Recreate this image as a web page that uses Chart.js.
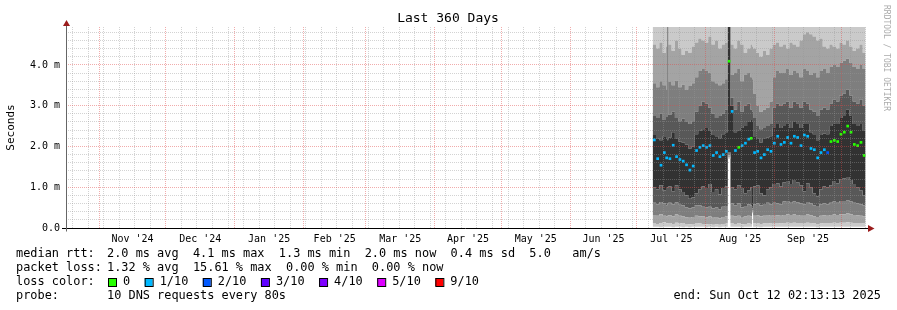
<!DOCTYPE html>
<html>
<head>
<meta charset="utf-8">
<title>Last 360 Days</title>
<script src="https://cdn.jsdelivr.net/npm/chart.js@4.4.1/dist/chart.umd.min.js"></script>
<style>
  html, body { margin: 0; padding: 0; background: #fff; }
  canvas { display: block; }
</style>
</head>
<body>
<canvas id="graph" width="897" height="310"></canvas>
<script>
(function () {
  "use strict";

  // sample times, days since graph start (end - 360 days)
  const days = [264, 265.5, 267, 268.5, 270, 270.6, 271, 272.5, 274, 275.5,
    277, 278.5, 280, 281.5, 283, 284.5, 286, 287.5, 289, 290.5,
    292, 293.5, 295, 296.5, 297.8, 299, 300.5, 302, 303.5, 305,
    306.5, 308, 308.7, 309.2, 310.5, 312, 313.5, 315, 316.5, 318,
    319.5, 321, 322.5, 324, 325.5, 327, 328.5, 330, 331.5, 333,
    334.5, 336, 337.5, 339, 340.5, 342, 343.5, 345, 346.5, 348,
    349.5, 351, 352.5, 354, 355.5, 357, 358.5, 359.8];

  // median rtt (ms)
  const median = [2.16, 1.70, 1.54, 1.85, 1.72, null, 1.70, 2.03, 1.75, 1.68,
    1.64, 1.55, 1.42, 1.52, 1.90, 1.98, 2.02, 1.98, 2.02, 1.78,
    1.85, 1.75, 1.80, 1.88, 4.09, 2.86, 1.90, 1.98, 2.02, 2.08,
    2.18, 2.20, null, 1.85, 1.88, 1.72, 1.80, 1.92, 1.88, 2.08,
    2.25, 2.05, 2.10, 2.22, 2.08, 2.25, 2.22, 2.02, 2.28, 2.25,
    1.95, 1.92, 1.72, 1.85, 1.92, 1.85, 2.12, 2.15, 2.12, 2.30,
    2.35, 2.50, 2.35, 2.05, 2.02, 2.10, 1.78, null];

  // loss level, index into lossLabels
  const loss = [1, 1, 1, 1, 1, 1, 1, 1, 1, 1,
    1, 1, 1, 1, 1, 1, 1, 1, 1, 1,
    1, 1, 1, 1, 0, 1, 1, 0, 1, 1,
    1, 0, 1, 1, 1, 1, 1, 1, 1, 1,
    1, 1, 1, 1, 1, 1, 1, 1, 1, 1,
    1, 1, 1, 1, 1, 2, 0, 0, 0, 0,
    0, 0, 0, 0, 0, 0, 0, 0];

  // sorted pings 1..9 (ping 10 is above the graph top)
  const ping1 = [.03, .03, .02, .03, .03, .03, .03, .02, .03, .03,
    .02, .03, .02, .03, .03, .03, .03, .02, .03, .02,
    .03, .02, .03, .03, 1.70, .03, .03, .03, .02, .03,
    .03, .03, .36, .03, .03, .02, .03, .03, .03, .03,
    .03, .03, .03, .03, .03, .03, .03, .03, .03, .03,
    .03, .03, .02, .03, .03, .03, .03, .03, .03, .03,
    .03, .03, .03, .03, .03, .03, .03, .03];
  const ping2 = [.12, .10, .12, .14, .11, .12, .12, .10, .13, .11,
    .12, .10, .09, .10, .12, .11, .10, .09, .10, .08,
    .09, .08, .10, .11, 1.74, .11, .10, .12, .09, .10,
    .11, .10, .40, .11, .12, .10, .11, .12, .11, .12,
    .12, .11, .12, .13, .12, .13, .12, .12, .12, .13,
    .12, .11, .10, .11, .12, .12, .12, .13, .12, .13,
    .13, .14, .13, .12, .12, .12, .11, .11];
  const ping3 = [.32, .30, .34, .30, .28, .30, .31, .29, .33, .30,
    .28, .26, .25, .27, .30, .29, .28, .26, .28, .25,
    .27, .24, .27, .28, 1.78, .30, .28, .30, .25, .28,
    .30, .28, .44, .30, .31, .28, .30, .32, .30, .32,
    .31, .30, .32, .34, .32, .33, .32, .30, .30, .33,
    .31, .29, .27, .30, .31, .30, .32, .33, .32, .34,
    .34, .36, .34, .32, .31, .30, .28, .28];
  const ping4 = [.62, .58, .64, .60, .56, .60, .62, .58, .63, .57,
    .55, .50, .48, .50, .56, .55, .52, .50, .52, .48,
    .50, .46, .52, .54, 1.82, .60, .55, .60, .50, .52,
    .58, .55, .48, .58, .60, .55, .57, .62, .58, .62,
    .60, .58, .65, .66, .62, .65, .63, .60, .58, .64,
    .60, .56, .52, .58, .60, .58, .62, .65, .62, .66,
    .66, .68, .65, .62, .60, .58, .55, .55];
  const ping5 = [1.00, .95, 1.05, .92, .98, 1.00, 1.02, .90, 1.05, .95,
    .88, .80, .72, .75, .85, .95, 1.02, .98, 1.08, .88,
    .95, .82, .98, 1.02, 1.86, 1.00, .95, 1.05, .98, .85,
    .92, 1.00, .52, 1.02, 1.05, .85, .80, .95, 1.00, 1.08,
    1.10, 1.02, 1.12, 1.15, 1.08, 1.18, 1.12, 1.05, .90, 1.10,
    1.00, .85, .78, .95, 1.02, 1.00, 1.05, 1.15, 1.10, 1.20,
    1.22, 1.25, 1.18, 1.08, 1.00, .92, .80, .80];
  const ping6 = [2.30, 2.20, 2.15, 2.25, 2.18, 2.15, 2.22, 2.35, 2.20, 2.12,
    2.10, 2.05, 1.95, 2.00, 2.30, 2.38, 2.42, 2.45, 2.40, 2.28,
    2.25, 2.20, 2.30, 2.35, 5.50, 3.00, 2.35, 2.40, 2.45, 2.50,
    2.60, 2.65, 2.60, 2.25, 2.20, 2.10, 2.18, 2.22, 2.25, 2.45,
    2.55, 2.45, 2.50, 2.55, 2.45, 2.60, 2.55, 2.45, 2.55, 2.55,
    2.35, 2.30, 2.15, 2.28, 2.32, 2.30, 2.50, 2.55, 2.55, 2.70,
    2.75, 2.90, 2.75, 2.55, 2.50, 2.55, 2.40, 2.40];
  const ping7 = [2.75, 2.70, 2.80, 2.65, 2.72, 5.50, 2.78, 2.85, 2.70, 2.62,
    2.68, 2.60, 2.55, 2.62, 2.85, 3.00, 3.10, 3.05, 2.95, 2.80,
    2.70, 2.75, 2.80, 2.90, 5.60, 3.20, 2.90, 3.10, 2.85, 3.00,
    3.05, 2.90, 2.85, 2.70, 2.50, 2.42, 2.45, 2.50, 2.55, 2.95,
    3.05, 3.00, 3.05, 3.10, 2.95, 3.10, 3.05, 2.95, 3.10, 3.05,
    2.90, 2.85, 2.75, 2.90, 2.95, 2.90, 3.05, 3.15, 3.10, 3.25,
    3.30, 3.40, 3.25, 3.10, 3.05, 3.15, 3.00, 3.00];
  const ping8 = [3.55, 3.45, 3.60, 3.50, 3.40, 5.60, 3.58, 3.50, 3.62, 3.45,
    3.52, 3.40, 3.48, 3.55, 3.70, 3.85, 3.90, 3.85, 3.80, 3.60,
    3.55, 3.50, 3.55, 3.65, 5.70, 3.75, 3.80, 3.90, 3.60, 3.75,
    3.80, 3.70, 3.65, 3.30, 3.00, 2.85, 2.90, 2.95, 3.10, 3.70,
    3.85, 3.80, 3.80, 3.90, 3.75, 3.85, 3.80, 3.70, 3.90, 3.85,
    3.75, 3.80, 3.70, 3.85, 3.90, 3.80, 3.95, 4.00, 3.95, 4.05,
    4.10, 4.15, 4.05, 3.95, 3.90, 4.00, 3.90, 3.90];
  const ping9 = [4.50, 4.40, 4.55, 4.30, 4.45, 5.70, 4.50, 4.35, 4.60, 4.40,
    4.25, 4.35, 4.30, 4.45, 4.55, 4.65, 4.60, 4.55, 4.70, 4.50,
    4.60, 4.40, 4.50, 4.55, 5.80, 4.50, 4.40, 4.60, 4.50, 4.30,
    4.40, 4.50, 4.45, 4.40, 4.30, 4.20, 4.35, 4.25, 4.40, 4.50,
    4.55, 4.45, 4.50, 4.40, 4.55, 4.50, 4.45, 4.60, 4.75, 4.80,
    4.75, 4.70, 4.60, 4.65, 4.45, 4.40, 4.50, 4.45, 4.40, 4.55,
    4.50, 4.60, 4.45, 4.35, 4.40, 4.50, 4.30, 4.30];

  const lossLabels = ["0", "1/10", "2/10", "3/10", "4/10", "5/10", "9/10"];
  const lossColors = ["#26ff00", "#00b8ff", "#0059ff", "#5e00ff", "#7e00ff", "#dd00ff", "#ff0000"];
  const smokeGrays = ["#cacaca", "#a4a4a4", "#7e7e7e", "#585858", "#323232"];

  const endTime = "2025-10-12T02:13:13Z";
  const spanDays = 360;
  const monthStarts = ["2024-11-01", "2024-12-01", "2025-01-01", "2025-02-01", "2025-03-01", "2025-04-01",
    "2025-05-01", "2025-06-01", "2025-07-01", "2025-08-01", "2025-09-01", "2025-10-01"];
  const monthLabels = ["Nov '24", "Dec '24", "Jan '25", "Feb '25", "Mar '25", "Apr '25",
    "May '25", "Jun '25", "Jul '25", "Aug '25", "Sep '25"];
  const firstSunday = "2024-10-20";

  const yMax = 4.93;
  const yMinorStep = 0.2;
  const yMajor = [0, 1, 2, 3, 4];
  const yLabels = ["0.0", "1.0 m", "2.0 m", "3.0 m", "4.0 m"];

  const titleText = "Last 360 Days";
  const yTitle = "Seconds";
  const watermark = "RRDTOOL / TOBI OETIKER";
  const statRows = [
    ["median rtt:", "2.0 ms avg  4.1 ms max  1.3 ms min  2.0 ms now  0.4 ms sd  5.0   am/s"],
    ["packet loss:", "1.32 % avg  15.61 % max  0.00 % min  0.00 % now"],
  ];
  const probeRow = ["probe:", "10 DNS requests every 80s"];
  const endText = "end: Sun Oct 12 02:13:13 2025";

  const MONO = "'DejaVu Sans Mono', monospace";
  const DAY = 86400000;
  const startMs = Date.parse(endTime) - spanDays * DAY;
  const toDay = (s) => (Date.parse(s + "T00:00:00Z") - startMs) / DAY;

  // x ticks: month starts (red), sundays (gray), month middles (labels)
  const monthPos = monthStarts.map(toDay);
  const xTicks = [];
  monthPos.forEach((v) => xTicks.push({ value: v, kind: "major", label: "" }));
  for (let w = toDay(firstSunday); w < spanDays; w += 7) {
    if (monthPos.some((m) => Math.abs(m - w) < 0.5)) continue;
    xTicks.push({ value: w, kind: "minor", label: "" });
  }
  monthLabels.forEach((lab, i) =>
    xTicks.push({ value: (monthPos[i] + monthPos[i + 1]) / 2, kind: "label", label: lab })
  );
  xTicks.sort((a, b) => a.value - b.value);

  const yTicks = [];
  for (let k = 0; k * yMinorStep < yMax; k++) yTicks.push(Math.round(k * yMinorStep * 10) / 10);

  const GRID_MINOR = "rgba(150,150,150,0.42)";
  const GRID_MAJOR = "rgba(225,70,70,0.45)";
  const NONE = "rgba(0,0,0,0)";

  const pings = [ping1, ping2, ping3, ping4, ping5, ping6, ping7, ping8, ping9];
  const pts = (vals) => vals.map((v, k) => ({ x: days[k], y: v }));

  const datasets = [
    {
      data: median.map((v, k) => ({
        x: k < days.length - 1 ? (days[k] + days[k + 1]) / 2 : days[k],
        y: v,
      })),
      showLine: false,
      pointStyle: "rect",
      pointRadius: 1.9,
      pointBorderWidth: 0,
      pointBackgroundColor: (c) => lossColors[loss[c.dataIndex]],
    },
  ];
  pings.forEach((vals, i) => {
    const j = i + 1;
    datasets.push({
      data: pts(vals),
      stepped: true,
      borderWidth: 0,
      borderColor: NONE,
      pointRadius: 0,
      fill: j === 1 ? false : "-1",
      backgroundColor: j === 1 ? NONE : smokeGrays[Math.min(j - 1, 11 - j) - 1],
    });
  });
  // band from ping 9 up to ping 10 (off the top)
  datasets.push({
    data: pts(ping9),
    stepped: true,
    borderWidth: 0,
    borderColor: NONE,
    pointRadius: 0,
    fill: "end",
    backgroundColor: smokeGrays[0],
  });

  const decor = {
    id: "decor",
    afterDraw(chart) {
      const ctx = chart.ctx;
      const a = chart.chartArea;
      ctx.save();
      ctx.fillStyle = "#000";
      ctx.textBaseline = "middle";

      ctx.font = "13px " + MONO;
      ctx.textAlign = "center";
      ctx.fillText(titleText, 448, 19);

      ctx.save();
      ctx.font = "11px " + MONO;
      ctx.translate(11, (a.top + a.bottom) / 2);
      ctx.rotate(-Math.PI / 2);
      ctx.fillText(yTitle, 0, 0);
      ctx.restore();

      ctx.save();
      ctx.font = "8px " + MONO;
      ctx.fillStyle = "#ababab";
      ctx.textAlign = "left";
      ctx.translate(886, 5);
      ctx.rotate(Math.PI / 2);
      ctx.fillText(watermark, 0, 0);
      ctx.restore();

      // axes with arrows
      const yb = Math.round(a.bottom) + 0.5;
      const xl = Math.round(a.left) + 0.5;
      ctx.lineWidth = 1;
      ctx.strokeStyle = "#000";
      ctx.beginPath();
      ctx.moveTo(62, yb);
      ctx.lineTo(869, yb);
      ctx.stroke();
      ctx.strokeStyle = "#666";
      ctx.beginPath();
      ctx.moveTo(xl, yb + 3);
      ctx.lineTo(xl, 25);
      ctx.stroke();
      ctx.fillStyle = "#9b1c1c";
      ctx.beginPath();
      ctx.moveTo(868, yb - 3.5);
      ctx.lineTo(874.5, yb);
      ctx.lineTo(868, yb + 3.5);
      ctx.closePath();
      ctx.fill();
      ctx.beginPath();
      ctx.moveTo(xl - 3.5, 26);
      ctx.lineTo(xl, 20);
      ctx.lineTo(xl + 3.5, 26);
      ctx.closePath();
      ctx.fill();

      // legend
      ctx.fillStyle = "#000";
      ctx.font = "11.9px " + MONO;
      ctx.textAlign = "left";
      const rows = [254, 268, 282, 295.5];
      statRows.forEach((r, i) => {
        ctx.fillText(r[0], 16, rows[i]);
        ctx.fillText(r[1], 107, rows[i]);
      });
      ctx.fillText("loss color:", 16, rows[2]);
      let cx = 108;
      lossLabels.forEach((lab, i) => {
        ctx.fillStyle = lossColors[i];
        ctx.fillRect(cx, rows[2] - 4, 8, 8);
        ctx.strokeStyle = "#000";
        ctx.strokeRect(cx + 0.5, rows[2] - 3.5, 8, 8);
        ctx.fillStyle = "#000";
        ctx.fillText(lab, cx + 15, rows[2]);
        cx += 15 + ctx.measureText(lab).width + 14.5;
      });
      ctx.fillText(probeRow[0], 16, rows[3]);
      ctx.fillText(probeRow[1], 107, rows[3]);
      ctx.textAlign = "right";
      ctx.fillText(endText, 881, rows[3]);
      ctx.restore();
    },
  };

  new Chart(document.getElementById("graph"), {
    type: "line",
    data: { datasets },
    options: {
      responsive: false,
      animation: false,
      events: [],
      layout: { padding: { top: 27, right: 31, left: 0, bottom: 0 } },
      plugins: { legend: { display: false }, tooltip: { enabled: false }, title: { display: false } },
      scales: {
        x: {
          type: "linear",
          min: 0,
          max: spanDays,
          afterBuildTicks: (s) => {
            s.ticks = xTicks.map((t) => ({ value: t.value }));
          },
          afterFit: (s) => {
            s.height = 82;
          },
          grid: {
            z: 1,
            drawTicks: false,
            lineWidth: 1,
            color: (c) => {
              const t = xTicks[c.index];
              if (!t || t.kind === "label") return NONE;
              return t.kind === "major" ? GRID_MAJOR : GRID_MINOR;
            },
          },
          border: { display: false, dash: [1, 1] },
          ticks: {
            autoSkip: false,
            maxRotation: 0,
            padding: 5,
            color: "#000",
            font: { family: MONO, size: 10 },
            callback: (v, i) => (xTicks[i] ? xTicks[i].label : ""),
          },
        },
        y: {
          type: "linear",
          min: 0,
          max: yMax,
          afterBuildTicks: (s) => {
            s.ticks = yTicks.map((v) => ({ value: v }));
          },
          afterFit: (s) => {
            s.width = 66;
          },
          grid: {
            z: 1,
            drawTicks: false,
            lineWidth: 1,
            color: (c) => {
              const v = yTicks[c.index];
              if (v === 0) return NONE;
              return yMajor.includes(v) ? GRID_MAJOR : GRID_MINOR;
            },
          },
          border: { display: false, dash: [1, 1] },
          ticks: {
            autoSkip: false,
            padding: 6,
            color: "#000",
            font: { family: MONO, size: 10 },
            callback: (v, i) => {
              const m = yMajor.indexOf(yTicks[i]);
              return m >= 0 ? yLabels[m] : "";
            },
          },
        },
      },
    },
    plugins: [decor],
  });
})();
</script>
</body>
</html>
